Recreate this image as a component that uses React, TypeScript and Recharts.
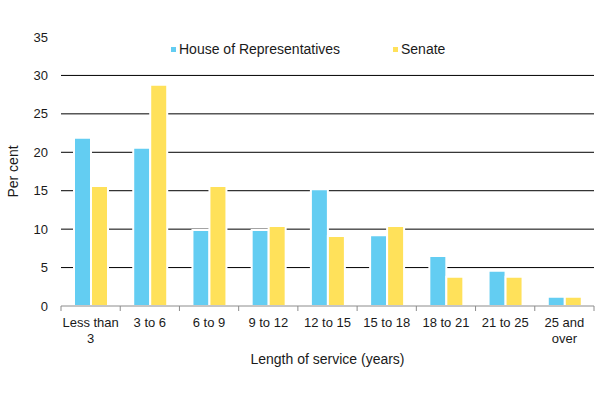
import React from 'react';
import { BarChart, Bar, XAxis, YAxis, CartesianGrid, Legend } from 'recharts';

const categories = ['Less than 3', '3 to 6', '6 to 9', '9 to 12', '12 to 15', '15 to 18', '18 to 21', '21 to 25', '25 and over'];
const houseValues = [21.9, 20.6, 9.9, 9.9, 15.2, 9.2, 6.5, 4.6, 1.2];
const senateValues = [15.6, 28.8, 15.6, 10.4, 9.1, 10.4, 3.8, 3.8, 1.2];
const yTicks = [0, 5, 10, 15, 20, 25, 30, 35];
const gridValues = [5, 10, 15, 20, 25, 30];
const seriesKeys = ['house', 'senate'];
const seriesNames = ['House of Representatives', 'Senate'];
const seriesColors = ['#63CDF2', '#FFE15A'];

const FONT = 'Liberation Sans, Arial, sans-serif';
const TEXT_COLOR = '#1a1a1a';

const data = categories.map((c, i) => ({ category: c, house: houseValues[i], senate: senateValues[i] }));

let ctx: CanvasRenderingContext2D | null = null;
const measure = (s: string, size: number) => {
  if (!ctx && typeof document !== 'undefined') {
    ctx = document.createElement('canvas').getContext('2d');
  }
  if (!ctx) return s.length * size * 0.5;
  ctx.font = `${size}px ${FONT}`;
  return ctx.measureText(s).width;
};

const wrapWords = (label: string, maxWidth: number, size: number) => {
  const words = String(label).split(' ');
  const lines: string[] = [];
  let cur = '';
  words.forEach((w) => {
    const next = cur ? cur + ' ' + w : w;
    if (cur && measure(next, size) > maxWidth) {
      lines.push(cur);
      cur = w;
    } else {
      cur = next;
    }
  });
  if (cur) lines.push(cur);
  return lines;
};

const CategoryTick = (props: any) => {
  const { x, y, payload, index, visibleTicksCount, width } = props;
  const half = payload && typeof payload.offset === 'number' && payload.offset > 0 ? payload.offset : width / visibleTicksCount / 2;
  const lines = wrapWords(payload.value, half * 2 - 2, 13);
  return (
    <g>
      <line x1={x - half} x2={x - half} y1={y} y2={y + 5} stroke="#8c8c8c" strokeWidth={1} />
      {index === visibleTicksCount - 1 && (
        <line x1={x + half} x2={x + half} y1={y} y2={y + 5} stroke="#8c8c8c" strokeWidth={1} />
      )}
      <text x={x} y={y + 21} textAnchor="middle" fill={TEXT_COLOR} style={{ fontSize: 13, fontFamily: FONT }}>
        {lines.map((l, i) => (
          <tspan key={i} x={x} dy={i === 0 ? 0 : 15.5}>
            {l}
          </tspan>
        ))}
      </text>
    </g>
  );
};

const LegendContent = () => (
  <div style={{ display: 'flex', alignItems: 'center', fontFamily: FONT, fontSize: 14, color: TEXT_COLOR, whiteSpace: 'nowrap' }}>
    {seriesNames.map((name, i) => (
      <div key={name} style={{ display: 'flex', alignItems: 'center', width: i === 0 ? 222 : 'auto' }}>
        <span style={{ display: 'inline-block', width: 5, height: 5, background: seriesColors[i], marginRight: 3 }} />
        <span>{name}</span>
      </div>
    ))}
  </div>
);

export default function App() {
  return (
    <div style={{ position: 'absolute', left: 0, top: 0, width: 602, height: 393, background: '#fff' }}>
      <BarChart
        width={602}
        height={393}
        data={data}
        margin={{ top: 37, right: 8, left: 0, bottom: 0 }}
        barSize={17}
        barGap={0}
      >
        <CartesianGrid vertical={false} horizontalValues={gridValues} stroke="#000" strokeWidth={1} />
        <XAxis
          dataKey="category"
          height={87}
          interval={0}
          tickLine={false}
          tickSize={0}
          tickMargin={0}
          axisLine={{ stroke: '#8c8c8c', strokeWidth: 1 }}
          tick={<CategoryTick />}
          label={{ value: 'Length of service (years)', position: 'insideTop', offset: 48, fill: TEXT_COLOR, fontSize: 14, fontFamily: FONT }}
        />
        <YAxis
          width={61}
          domain={[0, 35]}
          ticks={yTicks}
          interval={0}
          axisLine={false}
          tickLine={false}
          tickSize={0}
          tickMargin={13}
          tick={{ fill: TEXT_COLOR, fontSize: 13, fontFamily: FONT }}
          label={{ value: 'Per cent', angle: -90, position: 'center', dx: -17, fill: TEXT_COLOR, fontSize: 14, fontFamily: FONT }}
        />
        <Legend
          layout="horizontal"
          verticalAlign="middle"
          align="center"
          wrapperStyle={{ top: 41, left: 171, width: 'auto', height: 18 }}
          content={<LegendContent />}
        />
        {seriesKeys.map((k, i) => (
          <Bar
            key={k}
            dataKey={k}
            name={seriesNames[i]}
            fill={seriesColors[i]}
            stroke="#ffffff"
            strokeWidth={2}
            isAnimationActive={false}
          />
        ))}
      </BarChart>
    </div>
  );
}
